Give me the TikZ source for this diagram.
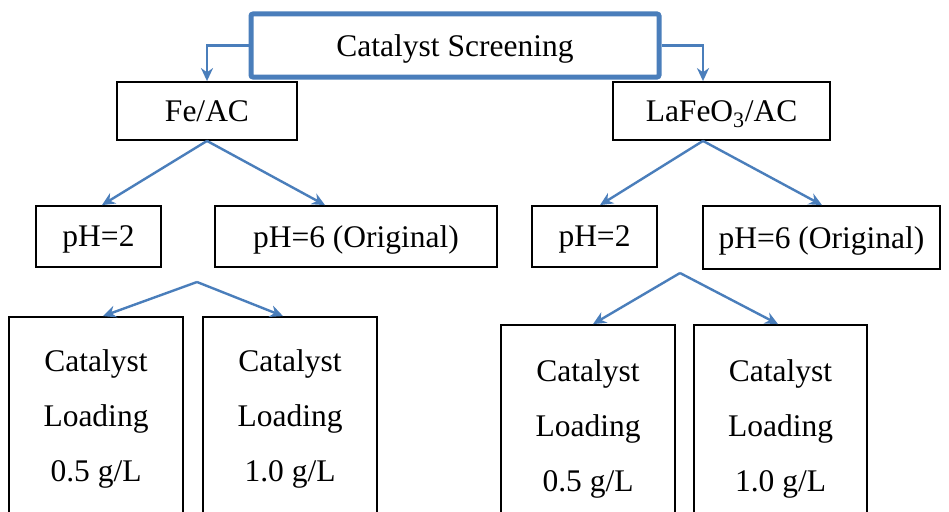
\documentclass[tikz,border=0pt]{standalone}
\usepackage{fontspec}
\setmainfont{Liberation Serif}
\usepackage{tikz}
\usetikzlibrary{arrows.meta}
\definecolor{linkblue}{RGB}{74,126,187}
\tikzset{
    box/.style={
           rectangle,
           draw=black, line width=1.8pt,
           inner sep=0pt,
           text depth=0pt,
           text centered,
           font=\fontsize{31.5}{55}\selectfont
           },
    loadbox/.style={
           box,
           align=center,
           text depth=-2pt,
           minimum width=174pt
           },
    topbox/.style={
           box,
           draw=linkblue, line width=5pt,
           rounded corners=2pt
           },
    link/.style={
           ->, draw=linkblue,
           line width=2.4pt
           }
}

\begin{document}
\begin{tikzpicture}[x=1pt, y=-1pt, >={Stealth[length=13pt,width=12pt]}]
   \useasboundingbox (0,0) rectangle (949,511);
   \clip (0,0) rectangle (949,511);
   \fill[white] (0,0) rectangle (949,511);
   % top level
   \node[topbox, minimum width=408pt, minimum height=63pt] (screen) at (455,45.5) {Catalyst Screening};
   \node[box, minimum width=180pt, minimum height=58pt] (fe) at (207,111) {Fe/AC};
   \node[box, minimum width=217pt, minimum height=58pt] (la) at (721.5,111) {LaFeO\textsubscript{3}/AC};
   % pH level
   \node[box, minimum width=125pt, minimum height=61pt] (phfea) at (98.5,236.5) {pH=2};
   \node[box, minimum width=282pt, minimum height=61pt] (phfeb) at (356,236.5) {pH=6 (Original)};
   \node[box, minimum width=125pt, minimum height=61pt] (phlaa) at (594.5,236.5) {pH=2};
   \node[box, minimum width=237pt, minimum height=63pt] (phlab) at (821.5,237.5) {pH=6 (Original)};
   % loading level
   \node[loadbox, minimum height=198pt] (loadfea) at (96,416) {Catalyst\\Loading\\0.5 g/L};
   \node[loadbox, minimum height=198pt] (loadfeb) at (290,416) {Catalyst\\Loading\\1.0 g/L};
   \node[loadbox, minimum height=202pt] (loadlaa) at (588,426) {Catalyst\\Loading\\0.5 g/L};
   \node[loadbox, minimum width=173pt, minimum height=202pt] (loadlab) at (780.5,426) {Catalyst\\Loading\\1.0 g/L};
   \coordinate (splitfe) at (197,282);
   \coordinate (splitla) at (680,273);
   % connectors
   \draw[link] (screen.west) -| (fe.north);
   \draw[link] (screen.east) -| ([xshift=-18.5pt]la.north);
   \draw[link] (fe.south) -- ([xshift=3.5pt]phfea.north);
   \draw[link] (fe.south) -- ([xshift=-31pt]phfeb.north);
   \draw[link] ([xshift=-18.5pt]la.south) -- ([xshift=5.5pt]phlaa.north);
   \draw[link] ([xshift=-18.5pt]la.south) -- ([xshift=0.5pt]phlab.north);
   \draw[link] (splitfe) -- ([xshift=7pt]loadfea.north);
   \draw[link] (splitfe) -- ([xshift=-7pt]loadfeb.north);
   \draw[link] (splitla) -- ([xshift=5pt]loadlaa.north);
   \draw[link] (splitla) -- ([xshift=-2.5pt]loadlab.north);
\end{tikzpicture}
\end{document}
